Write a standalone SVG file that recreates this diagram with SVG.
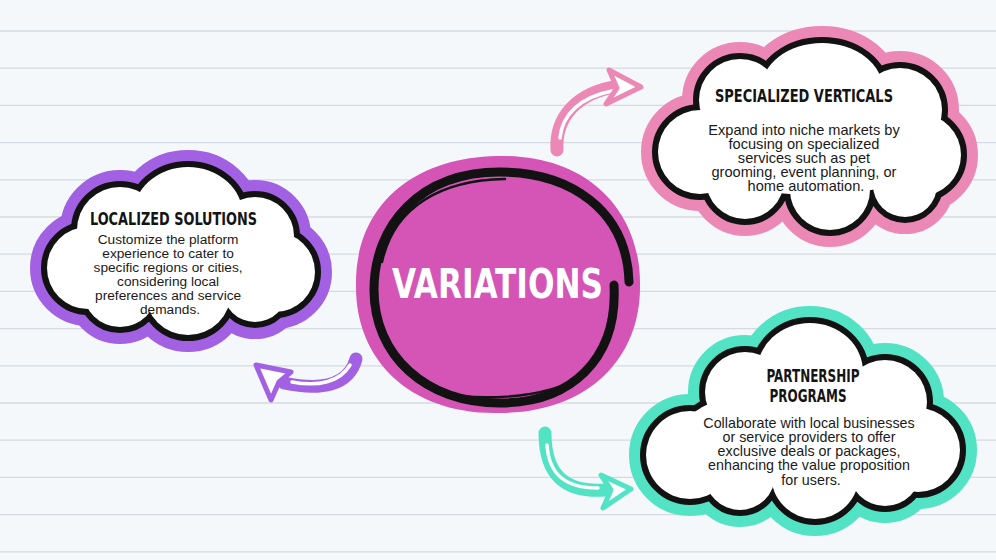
<svg xmlns="http://www.w3.org/2000/svg" xmlns:xlink="http://www.w3.org/1999/xlink" width="996" height="560" viewBox="0 0 996 560">
  <defs>
    <style>
      .paper-bg { fill: #f5f8fa; }
      .rule { fill: none; stroke: #d4dae0; stroke-width: 1.3; }
      .rim { stroke-width: 34; stroke-linejoin: round; }
      .rim-purple { fill: #a260e3; stroke: #a260e3; }
      .rim-pink { fill: #eb88b5; stroke: #eb88b5; }
      .rim-teal { fill: #52e2c4; stroke: #52e2c4; }
      .ink { fill: #121212; stroke: #121212; stroke-width: 12; }
      .card { fill: #ffffff; stroke: none; }
      .title { font-family: "DejaVu Sans Condensed", "DejaVu Sans", sans-serif; font-weight: 700; font-size: 17px; fill: #141414; text-anchor: middle; }
      .body { font-family: "Liberation Sans", Arial, sans-serif; fill: #1a1a1a; text-anchor: middle; }
      .hub-label { font-family: "DejaVu Sans Condensed", "DejaVu Sans", sans-serif; font-weight: 700; font-size: 41px; fill: #ffffff; text-anchor: middle; }
      .shaft { fill: none; stroke-width: 13; stroke-linecap: round; }
      .shaft-core { fill: none; stroke: #ffffff; stroke-width: 3.5; stroke-linecap: round; }
      .head { fill: #ffffff; stroke-width: 5; stroke-linejoin: round; }
    </style>

    <!-- cloud silhouettes: unions of lobes, painted three times (rim, ink, card) -->
    <g id="cloud-local">
      <circle cx="88" cy="268" r="41"/>
      <circle cx="120" cy="230" r="43"/>
      <ellipse cx="188" cy="216" rx="55" ry="49"/>
      <circle cx="255" cy="236" r="39"/>
      <circle cx="275" cy="272" r="40"/>
      <circle cx="255" cy="290" r="32"/>
      <circle cx="188" cy="292" r="43"/>
      <circle cx="120" cy="290" r="37"/>
      <ellipse cx="185" cy="262" rx="105" ry="42"/>
    </g>
    <g id="cloud-vertical">
      <circle cx="700" cy="152" r="42"/>
      <circle cx="740" cy="100" r="41"/>
      <ellipse cx="822" cy="90" rx="61" ry="47"/>
      <circle cx="900" cy="110" r="42"/>
      <circle cx="920" cy="155" r="41"/>
      <circle cx="905" cy="185" r="32"/>
      <circle cx="830" cy="190" r="40"/>
      <circle cx="745" cy="180" r="39"/>
      <ellipse cx="815" cy="145" rx="130" ry="50"/>
    </g>
    <g id="cloud-partner">
      <ellipse cx="810" cy="372" rx="53" ry="49"/>
      <circle cx="745" cy="392" r="40"/>
      <circle cx="885" cy="402" r="42"/>
      <circle cx="918" cy="450" r="42"/>
      <circle cx="690" cy="455" r="44"/>
      <circle cx="740" cy="475" r="35"/>
      <circle cx="815" cy="475" r="44"/>
      <circle cx="885" cy="470" r="36"/>
      <ellipse cx="810" cy="435" rx="130" ry="50"/>
    </g>
  </defs>

  <!-- ruled notebook paper -->
  <rect class="paper-bg" x="0" y="0" width="996" height="560"/>
  <path class="rule" d="M0 31H996M0 68.2H996M0 105.4H996M0 142.6H996M0 179.8H996M0 217H996M0 254.2H996M0 291.4H996M0 328.6H996M0 365.8H996M0 403H996M0 440.2H996M0 477.4H996M0 514.6H996M0 551.8H996"/>

  <!-- arrows from the hub to each variation -->
  <g id="connectors">
    <g id="to-vertical">
      <path class="shaft" stroke="#eb88b5" d="M557 150 C555 118 576 92 620 86"/>
      <path class="shaft-core" d="M560 138 C562 115 580 97 612 91"/>
      <polygon class="head" stroke="#eb88b5" points="641,87 609,70 617,88 606,104"/>
    </g>
    <g id="to-local">
      <path class="shaft" stroke="#a260e3" d="M356 359 C349 385 322 391 284 383"/>
      <path class="shaft-core" d="M350 365 C340 382 318 387 292 382"/>
      <polygon class="head" stroke="#a260e3" points="256,365 291,372 279,382 271,400"/>
    </g>
    <g id="to-partner">
      <path class="shaft" stroke="#52e2c4" d="M545 433 C545 475 565 493 606 490"/>
      <path class="shaft-core" d="M547 445 C549 475 566 488 598 488"/>
      <polygon class="head" stroke="#52e2c4" points="631,489 601,475 611,490 603,508"/>
    </g>
  </g>

  <!-- hub -->
  <g id="hub">
    <path fill="#d455b5" d="M497 156 C592 154 641 215 640 285 C641 360 586 414 497 413 C410 414 355 360 356 285 C355 210 408 158 497 156 Z"/>
    <path fill="none" stroke="#121212" stroke-width="9" stroke-linecap="round" d="M629 282 C627 210 570 172 500 172 C420 172 374 225 374 290 C374 355 425 403 500 403 C570 403 618 360 614 285"/>
    <path fill="none" stroke="#121212" stroke-width="2.5" stroke-linecap="round" d="M382 262 C394 206 442 180 505 179"/>
    <path fill="none" stroke="#121212" stroke-width="2.5" stroke-linecap="round" d="M440 392 C470 400 540 402 585 375"/>
    <text class="hub-label" x="497.5" y="298" textLength="211" lengthAdjust="spacingAndGlyphs">VARIATIONS</text>
  </g>

  <!-- Localized Solutions -->
  <g id="localized">
    <use xlink:href="#cloud-local" class="rim rim-purple"/>
    <use xlink:href="#cloud-local" class="ink"/>
    <use xlink:href="#cloud-local" class="card"/>
    <text class="title" x="173.5" y="225" textLength="167" lengthAdjust="spacingAndGlyphs">LOCALIZED SOLUTIONS</text>
    <text class="body" font-size="13.7">
      <tspan x="170" y="243.5">Customize the platform</tspan>
      <tspan x="170" y="257.6">experience to cater to</tspan>
      <tspan x="170" y="271.7">specific regions or cities,</tspan>
      <tspan x="170" y="285.8">considering local</tspan>
      <tspan x="170" y="299.9">preferences and service</tspan>
      <tspan x="170" y="314">demands.</tspan>
    </text>
  </g>

  <!-- Specialized Verticals -->
  <g id="specialized">
    <use xlink:href="#cloud-vertical" class="rim rim-pink"/>
    <use xlink:href="#cloud-vertical" class="ink"/>
    <use xlink:href="#cloud-vertical" class="card"/>
    <text class="title" x="804" y="102" textLength="178" lengthAdjust="spacingAndGlyphs">SPECIALIZED VERTICALS</text>
    <text class="body" font-size="14.6">
      <tspan x="806" y="134.5">Expand into niche markets by</tspan>
      <tspan x="806" y="148.7">focusing on specialized</tspan>
      <tspan x="806" y="162.9">services such as pet</tspan>
      <tspan x="806" y="177.1">grooming, event planning, or</tspan>
      <tspan x="806" y="191.3">home automation.</tspan>
    </text>
  </g>

  <!-- Partnership Programs -->
  <g id="partnership">
    <use xlink:href="#cloud-partner" class="rim rim-teal"/>
    <use xlink:href="#cloud-partner" class="ink"/>
    <use xlink:href="#cloud-partner" class="card"/>
    <text class="title" x="813" y="382" textLength="93" lengthAdjust="spacingAndGlyphs">PARTNERSHIP</text>
    <text class="title" x="808" y="402" textLength="77" lengthAdjust="spacingAndGlyphs">PROGRAMS</text>
    <text class="body" font-size="14.3">
      <tspan x="811" y="427.5">Collaborate with local businesses</tspan>
      <tspan x="811" y="441.7">or service providers to offer</tspan>
      <tspan x="811" y="456">exclusive deals or packages,</tspan>
      <tspan x="811" y="470.2">enhancing the value proposition</tspan>
      <tspan x="811" y="484.5">for users.</tspan>
    </text>
  </g>
</svg>
